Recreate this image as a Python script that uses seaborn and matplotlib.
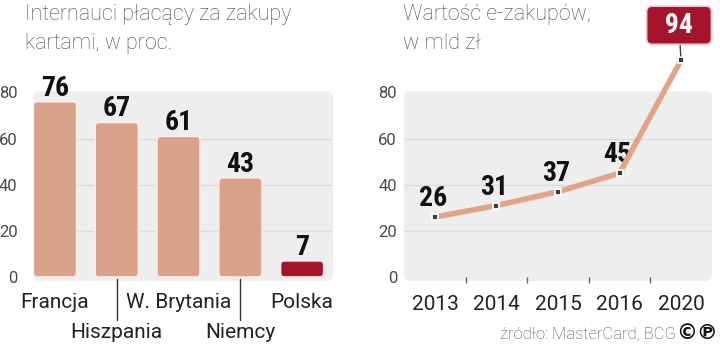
import matplotlib
matplotlib.use("Agg")
import matplotlib.pyplot as plt
from matplotlib.patches import FancyBboxPatch
from matplotlib.transforms import IdentityTransform
from matplotlib.ticker import FixedLocator
import seaborn as sns
import pandas as pd

# --- data -------------------------------------------------------------
countries = ["Francja", "Hiszpania", "W. Brytania", "Niemcy", "Polska"]
card_share = [76, 67, 61, 43, 7]
years = ["2013", "2014", "2015", "2016", "2020"]
ecommerce_bn = [26, 31, 37, 45, 94]
y_ticks = [0, 20, 40, 60, 80]
y_ticklabels = ["0", "20", "40", "60", "80"]
title_left = ["Internauci płacący za zakupy", "kartami, w proc."]
title_right = ["Wartość e-zakupów,", "w mld zł"]
source = "źródło: MasterCard, BCG"

# --- style ------------------------------------------------------------
W, H = 720, 344
SALMON = "#d9a08a"
LINE = "#e2a486"
RED = "#a5142d"
BG = "#eeeeee"
GRID = "#dadada"
GREY_TXT = "#4a4a4a"
NARROW = ["Roboto Condensed", "DejaVu Sans"]

sns.set_theme(style="white")
plt.rcParams["font.family"] = ["Roboto", "DejaVu Sans"]

fig = plt.figure(figsize=(W / 100, H / 100), dpi=100)
fig.patch.set_facecolor("white")


def px_axes(left, top, right, bottom):
    return fig.add_axes([left / W, 1 - bottom / H, (right - left) / W, (bottom - top) / H])


def backdrop(left, top, right, bottom):
    fig.patches.append(FancyBboxPatch(
        (left, H - bottom), right - left, bottom - top,
        boxstyle="round,pad=0,rounding_size=7", transform=IdentityTransform(),
        fc=BG, ec="none", zorder=-5))


def style_axes(ax, ylabel_pad):
    ax.set_facecolor("none")
    for s in ax.spines.values():
        s.set_visible(False)
    ax.set_ylim(0, 80)
    ax.set_yticks(y_ticks)
    ax.set_yticklabels(y_ticklabels)
    ax.tick_params(axis="y", length=0, pad=ylabel_pad, labelsize=12, labelcolor=GREY_TXT)
    for v in (20, 40, 60):
        ax.axhline(v, color=GRID, lw=1, zorder=0)
    ax.set_xlabel("")
    ax.set_ylabel("")


# --- left panel: bar chart ---------------------------------------------
backdrop(33, 91, 333, 281)
ax1 = px_axes(33, 92.5, 333, 277)
df_bar = pd.DataFrame({"country": countries, "share": card_share})
sns.barplot(data=df_bar, x="country", y="share", hue="country",
            palette=[SALMON] * 4 + [RED], legend=False, width=0.7,
            saturation=1, ax=ax1)
ax1.set_xlim(-0.356, 4.5)
style_axes(ax1, 11)

# give the bars rounded corners
x_per_px = (4.5 + 0.356) / 300
y_per_px = 80 / 184.5
aspect = y_per_px / x_per_px
for p in list(ax1.patches):
    x, y, w, h = p.get_x(), p.get_y(), p.get_width(), p.get_height()
    fc = p.get_facecolor()
    p.remove()
    ax1.add_patch(FancyBboxPatch(
        (x, y), w, h, boxstyle=f"round,pad=0,rounding_size={4 * x_per_px}",
        mutation_aspect=aspect, fc=fc, ec="#fbeee8", lw=1.2, zorder=3))

for i, v in enumerate(card_share):
    ax1.annotate(str(v), xy=(i, v), xytext=(0, 6), textcoords="offset pixels",
                 ha="center", va="baseline", fontsize=20, fontweight="bold",
                 family=NARROW, color="#111111")

ax1.set_xticks([])
for i, name in enumerate(countries):
    low = i % 2 == 1
    ax1.annotate(name, xy=(i, 0), xycoords=("data", "axes fraction"),
                 xytext=(0, -61 if low else -31), textcoords="offset pixels",
                 ha="center", va="baseline", fontsize=15, color="#222222")
    if low:
        ax1.plot([i, i], [-2 / 184.5, -43 / 184.5], color="#333333", lw=1,
                 transform=ax1.get_xaxis_transform(), clip_on=False)

# --- right panel: line chart -------------------------------------------
backdrop(404, 91, 712, 281)
ax2 = px_axes(404, 92.5, 712, 277)
sns.pointplot(x=years, y=ecommerce_bn, color=LINE, marker="", linewidth=4,
              errorbar=None, ax=ax2)
sns.pointplot(x=years, y=ecommerce_bn, color="#3c3c3c", linestyle="none",
              marker="s", markersize=4.5, markeredgewidth=1.3,
              errorbar=None, ax=ax2)
for ln in ax2.lines:
    ln.set_clip_on(False)
    ln.set_zorder(4)
ax2.lines[-1].set_markeredgecolor("white")
ax2.set_xlim(-0.504, 4.504)
style_axes(ax2, 5)
ax2.xaxis.set_minor_locator(FixedLocator([0.5, 1.5, 2.5, 3.5]))
ax2.tick_params(axis="x", which="major", length=0, pad=13, labelsize=15,
                labelcolor="#222222")
ax2.tick_params(axis="x", which="minor", bottom=True, length=4, width=1,
                color="#666666", direction="out", pad=0)

for i, v in enumerate(ecommerce_bn[:-1]):
    ax2.annotate(str(v), xy=(i, v), xytext=(-2, 11), textcoords="offset pixels",
                 ha="center", va="baseline", fontsize=20, fontweight="bold",
                 family=NARROW, color="#111111")

last = len(ecommerce_bn) - 1
ax2.annotate(f"  {ecommerce_bn[last]}  ", xy=(last, ecommerce_bn[last]),
             xytext=(-2, 35), textcoords="offset pixels",
             ha="center", va="center", fontsize=20, fontweight="bold",
             family=NARROW, color="white",
             bbox=dict(boxstyle="round,pad=0.2,rounding_size=0.2", fc=RED,
                       ec="#e9c9c9", lw=1.2),
             arrowprops=dict(arrowstyle="-", color="#444444", lw=1,
                             shrinkA=0, shrinkB=3),
             annotation_clip=False, zorder=6)

# --- titles and source ---------------------------------------------------
for x0, lines in ((25, title_left), (403, title_right)):
    for y0, line in zip((20, 49), lines):
        fig.text(x0 / W, 1 - y0 / H, line, ha="left", va="baseline",
                 fontsize=15.5, fontweight="light", color=GREY_TXT)
fig.text(676 / W, 1 - 339 / H, source, ha="right", va="baseline", fontsize=12,
         fontweight="light", color=GREY_TXT)
fig.text(718 / W, 1 - 339 / H, "©℗", ha="right", va="baseline", fontsize=15,
         fontweight="bold", family=["DejaVu Sans"], color="#111111")

fig.savefig("out.png", dpi=100, facecolor="white")
